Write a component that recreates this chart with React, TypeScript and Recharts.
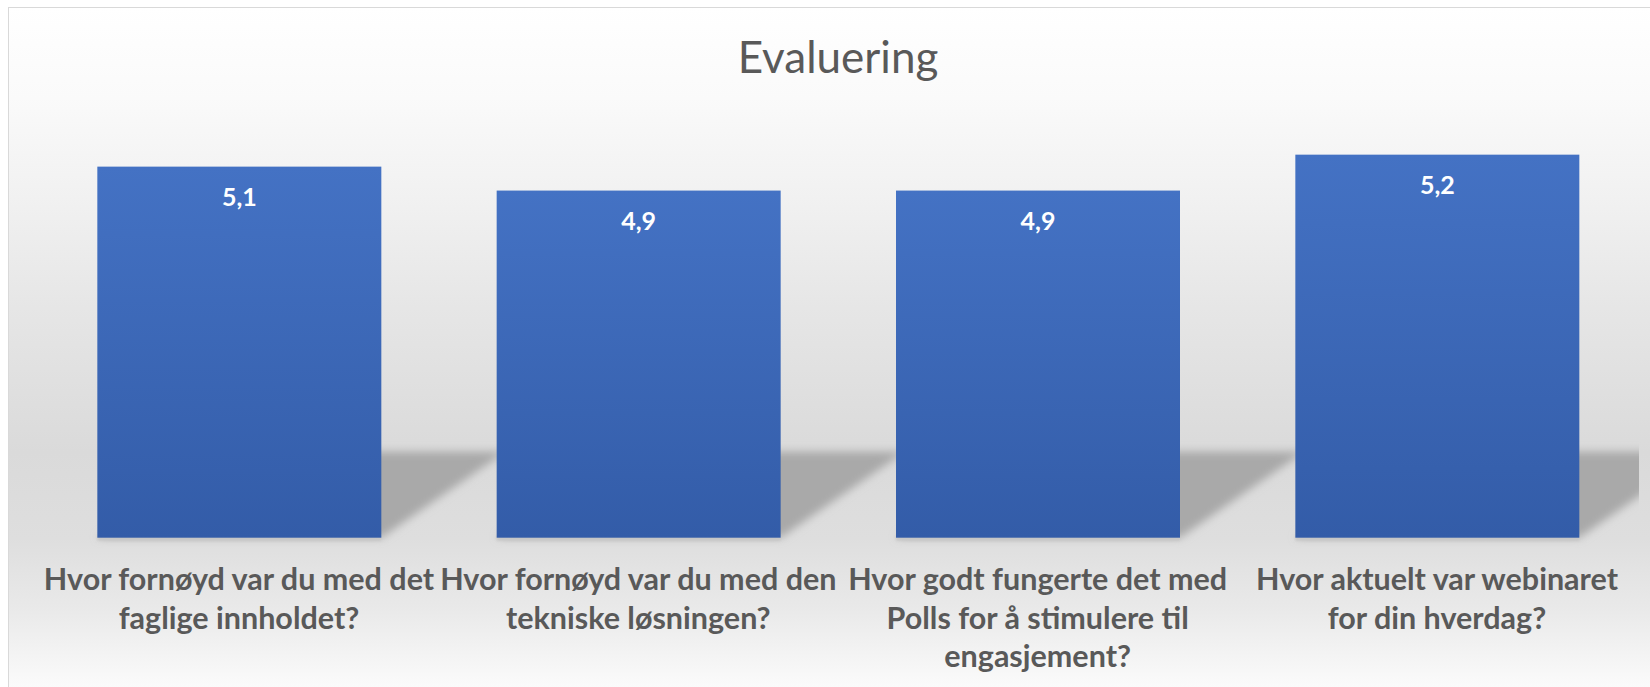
import React from "react";
import { BarChart, Bar, XAxis, YAxis, LabelList } from "recharts";

const title = "Evaluering";
const categories = [
  "Hvor fornøyd var du med det faglige innholdet?",
  "Hvor fornøyd var du med den tekniske løsningen?",
  "Hvor godt fungerte det med Polls for å stimulere til engasjement?",
  "Hvor aktuelt var webinaret for din hverdag?",
];
const categoryLines = [
  ["Hvor fornøyd var du med det", "faglige innholdet?"],
  ["Hvor fornøyd var du med den", "tekniske løsningen?"],
  ["Hvor godt fungerte det med", "Polls for å stimulere til", "engasjement?"],
  ["Hvor aktuelt var webinaret", "for din hverdag?"],
];
const values = [5.1, 4.9, 4.9, 5.2];
const valueLabels = ["5,1", "4,9", "4,9", "5,2"];
const yDomain = [2, 6];

const data = categories.map((c, i) => ({
  name: c,
  value: values[i],
  label: valueLabels[i],
}));

const W = 1641;
const H = 679;
const FONT = "Lato, 'Open Sans', sans-serif";
const SKEW = 124;
const SH_H = 86;

const BarShape = (props: any) => {
  const { x, y, width, height } = props;
  const bottom = y + height;
  const top = bottom - SH_H;
  const pts = `${x + SKEW},${top} ${x + width + SKEW},${top} ${x + width},${bottom} ${x},${bottom}`;
  return (
    <g>
      <g clipPath="url(#plotClip)">
        <polygon points={pts} fill="#a9a9a9" filter="url(#shBlur)" />
      </g>
      <rect x={x} y={bottom - 2} width={width} height={5} fill="#c8c8c8" filter="url(#smallBlur)" />
      <rect x={x} y={y} width={width} height={height} fill="url(#barGrad)" />
    </g>
  );
};

const Tick = (props: any) => {
  const { x, y, index } = props;
  const lines = categoryLines[index] || [];
  return (
    <g>
      {lines.map((l, i) => (
        <text
          key={i}
          x={x}
          y={y + 52.5 + i * 38.5}
          textAnchor="middle"
          fill="#595959"
          fontFamily={FONT}
          fontWeight={700}
          fontSize={30.5}
        >
          {l}
        </text>
      ))}
    </g>
  );
};

const ValueLabel = (props: any) => {
  const { x, y, width, value } = props;
  return (
    <text
      x={x + width / 2}
      y={y + 39}
      textAnchor="middle"
      fill="#ffffff"
      fontFamily={FONT}
      fontWeight={700}
      fontSize={25}
    >
      {value}
    </text>
  );
};

export default function App() {
  return (
    <div
      style={{
        position: "absolute",
        left: 8,
        top: 7,
        width: 1642,
        height: 680,
        boxSizing: "border-box",
        borderTop: "1px solid #d9d9d9",
        borderLeft: "1px solid #d9d9d9",
        background:
          "linear-gradient(to bottom, #ffffff 0px, #fafafa 90px, #f0f0f0 200px, #e6e6e6 300px, #dadada 445px, #dedede 530px, #e9e9e9 600px, #fbfbfb 680px)",
        overflow: "hidden",
      }}
    >
      <BarChart
        width={W}
        height={H}
        data={data}
        margin={{ top: 50.9, right: 13.33, bottom: 0, left: 30.33 }}
        barSize={284}
      >
        <defs>
          <linearGradient id="barGrad" x1="0" y1="0" x2="0" y2="1">
            <stop offset="0%" stopColor="#4472c4" />
            <stop offset="100%" stopColor="#335ca8" />
          </linearGradient>
          <filter id="shBlur" x="-20%" y="-50%" width="140%" height="200%">
            <feGaussianBlur stdDeviation="4" />
          </filter>
          <filter id="smallBlur" x="-5%" y="-100%" width="110%" height="300%">
            <feGaussianBlur stdDeviation="1" />
          </filter>
          <clipPath id="plotClip">
            <rect x={0} y={0} width={1630} height={H} />
          </clipPath>
        </defs>
        <XAxis
          dataKey="name"
          interval={0}
          axisLine={false}
          tickLine={false}
          tickSize={0}
          tickMargin={0}
          height={149.3}
          tick={<Tick />}
        />
        <YAxis hide domain={yDomain} type="number" />
        <Bar dataKey="value" isAnimationActive={false} shape={<BarShape />}>
          <LabelList dataKey="label" content={<ValueLabel />} />
        </Bar>
      </BarChart>
      <svg
        width={W}
        height={120}
        style={{ position: "absolute", left: 0, top: 0, pointerEvents: "none" }}
      >
        <text
          x={829}
          y={65}
          textAnchor="middle"
          fill="#595959"
          fontFamily={FONT}
          fontSize={44}
        >
          {title}
        </text>
      </svg>
    </div>
  );
}
